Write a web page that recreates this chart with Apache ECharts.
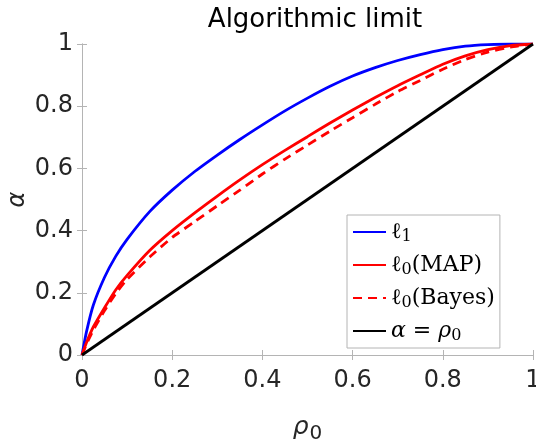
<!DOCTYPE html>
<html>
<head>
<meta charset="utf-8">
<script src="https://cdn.jsdelivr.net/npm/echarts@6/dist/echarts.min.js"></script>
<style>
html,body{margin:0;padding:0;background:#fff;}
#c{width:536px;height:443px;}
</style>
</head>
<body>
<div id="c"></div>
<script>
// ---- data ----
const rho = [0, 0.01, 0.025, 0.05, 0.075, 0.1, 0.15, 0.2, 0.25, 0.3, 0.35, 0.4, 0.45, 0.5, 0.55, 0.6, 0.65, 0.7, 0.75, 0.8, 0.85, 0.9, 0.95, 1];
const alphaL1 = [0, 0.075, 0.16, 0.25, 0.318, 0.372, 0.461, 0.530, 0.590, 0.643, 0.693, 0.740, 0.785, 0.826, 0.864, 0.897, 0.924, 0.947, 0.966, 0.982, 0.993, 0.998, 1.0, 1];
const alphaMAP = [0, 0.04, 0.09, 0.152, 0.21, 0.256, 0.336, 0.400, 0.457, 0.511, 0.563, 0.612, 0.658, 0.702, 0.746, 0.788, 0.828, 0.866, 0.901, 0.935, 0.962, 0.982, 0.995, 1];
const alphaBayes = [0, 0.035, 0.08, 0.143, 0.198, 0.243, 0.315, 0.378, 0.429, 0.48, 0.53, 0.582, 0.630, 0.675, 0.720, 0.763, 0.806, 0.847, 0.883, 0.919, 0.950, 0.974, 0.99, 1];
const rhoDiag = [0, 1];
const alphaDiag = [0, 1];
const tickValues = [0, 0.2, 0.4, 0.6, 0.8, 1];
const seriesNames = ['l1', 'map', 'bayes', 'diag'];
const legendLabels = {
  l1: '{m|ℓ}{s|1}',
  map: '{m|ℓ}{s|0}{m|(MAP)}',
  bayes: '{m|ℓ}{s|0}{m|(Bayes)}',
  diag: '{i|α}{m| = }{i|ρ}{s|0}'
};
const titleText = 'Algorithmic limit';

function pairs(xs, ys) { return xs.map((x, i) => [x, ys[i]]); }

const axisColor = '#b4b4b4';
const labelColor = '#262626';
const tickFont = 'DejaVu Sans';

const chart = echarts.init(document.getElementById('c'), null, {renderer: 'canvas'});

const baseAxis = {
  type: 'value', min: 0, max: 1, interval: 0.2,
  axisLine: {show: true, lineStyle: {color: axisColor, width: 1}},
  axisTick: {show: true, inside: true, length: 5, lineStyle: {color: axisColor}},
  splitLine: {show: false}
};
const fmt = v => { const r = +v.toFixed(1); return tickValues.indexOf(r) >= 0 ? String(r) : ''; };

chart.setOption({
  animation: false,
  backgroundColor: '#fff',
  title: {
    text: titleText, left: 310, top: 2, textAlign: 'center',
    textStyle: {fontFamily: tickFont, fontSize: 26, fontWeight: 'normal', color: '#000'}
  },
  grid: {left: 82, right: 3, top: 44, bottom: 88, containLabel: false, outerBoundsMode: 'none'},
  xAxis: [
    Object.assign({}, baseAxis, {
      position: 'bottom',
      axisLabel: {show: true, margin: 14, fontFamily: tickFont, fontSize: 24, color: labelColor, formatter: fmt},
      name: '{r|ρ}{s|0}', nameLocation: 'middle', nameGap: 57, nameMoveOverlap: false,
      nameTextStyle: {rich: {
        r: {fontFamily: 'DejaVu Sans', fontStyle: 'italic', fontSize: 25, color: labelColor, lineHeight: 30},
        s: {fontFamily: 'DejaVu Sans', fontSize: 20, color: labelColor, padding: [14, 0, 0, 1], lineHeight: 30}
      }}
    }),
    Object.assign({}, baseAxis, {position: 'top', axisLabel: {show: false}})
  ],
  yAxis: [
    Object.assign({}, baseAxis, {
      position: 'left',
      axisLabel: {show: true, margin: 9, fontFamily: tickFont, fontSize: 24, color: labelColor, formatter: fmt},
      name: 'α', nameLocation: 'middle', nameGap: 52, nameRotate: 90, nameMoveOverlap: false,
      nameTextStyle: {fontFamily: 'DejaVu Sans', fontStyle: 'italic', fontSize: 24, color: labelColor}
    }),
    Object.assign({}, baseAxis, {position: 'right', axisLabel: {show: false}})
  ],
  legend: {
    orient: 'vertical', left: 347, top: 215,
    data: seriesNames,
    itemWidth: 33, itemHeight: 14, itemGap: 7,
    padding: [4, 5, 4, 5],
    backgroundColor: '#fff', borderColor: '#b4b4b4', borderWidth: 1,
    itemStyle: {color: 'rgba(0,0,0,0)', borderWidth: 0, opacity: 0},
    formatter: n => legendLabels[n],
    textStyle: {
      rich: {
        m: {fontFamily: 'DejaVu Serif', fontSize: 22, color: '#000', lineHeight: 26},
        i: {fontFamily: 'DejaVu Serif', fontStyle: 'italic', fontSize: 22, color: '#000', lineHeight: 26},
        s: {fontFamily: 'DejaVu Serif', fontSize: 16, color: '#000', lineHeight: 26, padding: [10, 0, 0, 0]}
      }
    }
  },
  series: [
    {name: 'l1', type: 'line', data: pairs(rho, alphaL1), showSymbol: false, symbol: 'none', smooth: 0.2,
      lineStyle: {color: '#0000ff', width: 2.8}, itemStyle: {color: '#0000ff'}, z: 3},
    {name: 'map', type: 'line', data: pairs(rho, alphaMAP), showSymbol: false, symbol: 'none', smooth: 0.2,
      lineStyle: {color: '#ff0000', width: 2.8}, itemStyle: {color: '#ff0000'}, z: 3},
    {name: 'bayes', type: 'line', data: pairs(rho, alphaBayes), showSymbol: false, symbol: 'none', smooth: 0.2,
      lineStyle: {color: '#ff0000', width: 2.8, type: [9, 6]}, itemStyle: {color: '#ff0000'}, z: 3},
    {name: 'diag', type: 'line', data: pairs(rhoDiag, alphaDiag), showSymbol: false, symbol: 'none',
      lineStyle: {color: '#000000', width: 2.8}, itemStyle: {color: '#000000'}, z: 3}
  ]
});
</script>
</body>
</html>
